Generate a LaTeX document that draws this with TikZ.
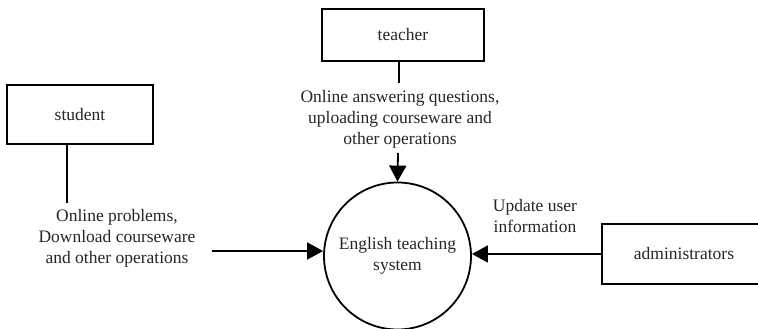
\documentclass[tikz,border=0pt]{standalone}
\usepackage{fontspec}
\setmainfont{Liberation Serif}
\usetikzlibrary{arrows.meta,positioning}
\begin{document}
\begin{tikzpicture}[x=1pt,y=-1pt,
  every node/.style={font=\fontsize{17.5}{21}\selectfont, text=black!85},
  entity/.style={draw, line width=1.8pt, minimum width=#1, inner sep=0pt},
  proc/.style={draw, circle, line width=1.8pt, minimum size=147pt, inner sep=0pt, align=center},
  lbl/.style={align=center, inner sep=0pt},
  link/.style={line width=1.8pt},
  flow/.style={line width=1.8pt, -{Triangle[length=16pt,width=17pt]}}]
\useasboundingbox (0,0) rectangle (758,329);
\node[entity=146pt, minimum height=59pt] (student) at (80,114.5) {student};
\node[entity=162pt, minimum height=52pt] (teacher) at (403,35) {teacher};
\node[proc] (sys) at (397.5,256) {English teaching\\system};
\node[entity=164pt, minimum height=60pt] (admin) at (684,254) {administrators};
\node[lbl] (lstu) at (117,238) {Online problems,\\Download courseware\\and other operations};
\node[lbl] (ltea) at (400,119.5) {Online answering questions,\\uploading courseware and\\other operations};
\node[lbl] (ladm) at (535,216) {Update user\\information};
\coordinate (s1) at (67,144);
\coordinate (s2) at (67,203);
\draw[link] (s1) -- (s2);
\coordinate (t1) at (399,61);
\coordinate (t2) at (399,83);
\draw[link] (t1) -- (t2);
\coordinate (t3) at (398,153);
\draw[flow] (t3) -- (sys.north);
\coordinate (l1) at (212,251);
\draw[flow] (l1) -- (sys.west |- l1);
\draw[flow] (admin.west) -- (sys.east |- admin.west);
\end{tikzpicture}
\end{document}
